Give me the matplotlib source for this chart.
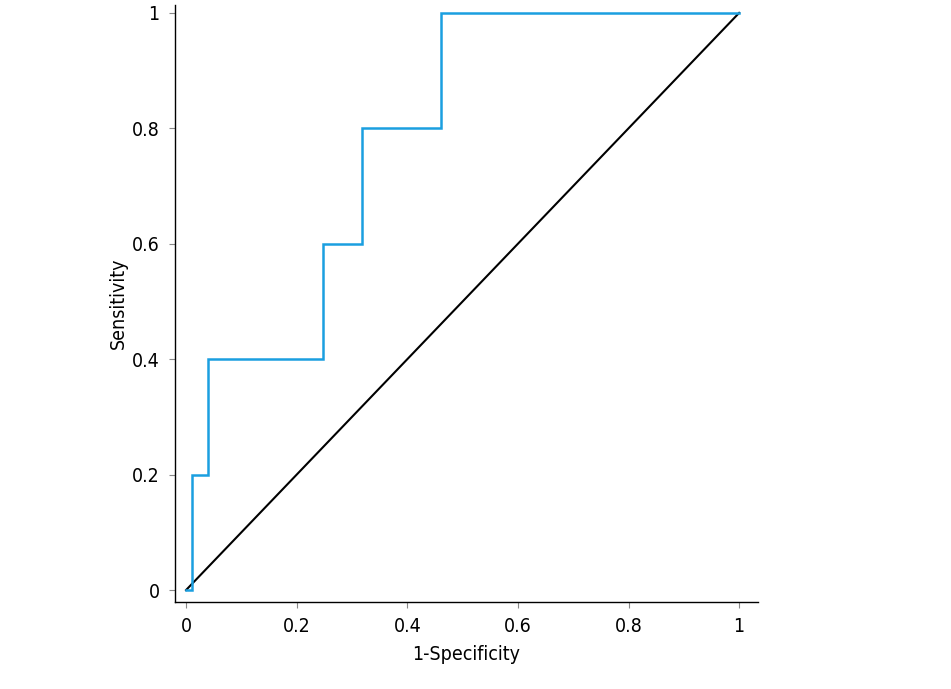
import matplotlib.pyplot as plt

# ROC curve
fpr = [0.0, 0.011, 0.011, 0.04, 0.04, 0.248, 0.248, 0.318, 0.318, 0.461, 0.461, 1.0]
tpr = [0.0, 0.0, 0.2, 0.2, 0.4, 0.4, 0.6, 0.6, 0.8, 0.8, 1.0, 1.0]
ticks = [0, 0.2, 0.4, 0.6, 0.8, 1]
tick_labels = ["0", "0.2", "0.4", "0.6", "0.8", "1"]

plt.rcParams['font.family'] = ['DejaVu Sans']
plt.rcParams['font.stretch'] = 'condensed'

fig = plt.figure(figsize=(9.51, 6.89), dpi=100)
ax = fig.add_axes([0.184, 0.126, 0.613, 0.867])

ax.plot([0, 1], [0, 1], color="black", lw=1.5)
ax.plot(fpr, tpr, color="#1a9fe0", lw=1.8, solid_joinstyle="miter")

ax.set_xlim(-0.02, 1.034)
ax.set_ylim(-0.021, 1.014)
ax.set_xticks(ticks)
ax.set_xticklabels(tick_labels)
ax.set_yticks(ticks)
ax.set_yticklabels(tick_labels)
ax.tick_params(length=4, width=0.8, color="#888888", labelsize=14, pad=7)
for s in ["top", "right"]:
    ax.spines[s].set_visible(False)
for s in ["left", "bottom"]:
    ax.spines[s].set_linewidth(1.0)

ax.set_xlabel("1-Specificity", fontsize=14, labelpad=6)
ax.set_ylabel("Sensitivity", fontsize=14, labelpad=3)

fig.savefig("out.png", dpi=100)
